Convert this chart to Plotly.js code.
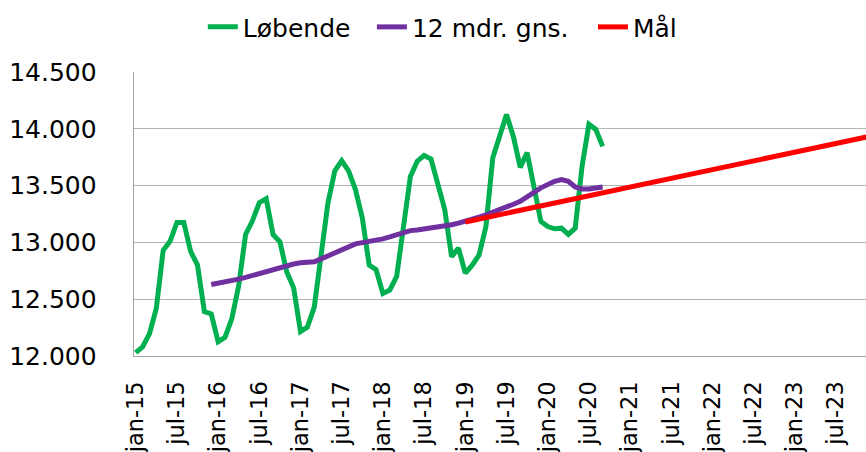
<!DOCTYPE html>
<html>
<head>
<meta charset="utf-8">
<script src="https://cdn.plot.ly/plotly-3.0.1.min.js"></script>
<style>html,body{margin:0;padding:0;background:#fff;}#chart{width:866px;height:452px;}</style>
</head>
<body>
<div id="chart"></div>
<script>
// Category axis: months jan-15 .. jan-24 (Danish abbreviations)
const monthNames = ['jan','feb','mar','apr','maj','jun','jul','aug','sep','okt','nov','dec'];
const years = ['15','16','17','18','19','20','21','22','23','24'];
const months = [];
years.forEach(y => monthNames.forEach(m => months.push(m + '-' + y)));

// Tick labels on the x axis
const xTickLabels = ['jan-15','jul-15','jan-16','jul-16','jan-17','jul-17','jan-18','jul-18',
  'jan-19','jul-19','jan-20','jul-20','jan-21','jul-21','jan-22','jul-22','jan-23','jul-23'];

// Y tick values / labels
const yTickValues = [12000, 12500, 13000, 13500, 14000, 14500];
const yTickLabels = ['12.000','12.500','13.000','13.500','14.000','14.500'];

// Series: Løbende (jan-15 .. sep-20)
const loebende = [
  12030,12080,12195,12420,12930,13010,13175,13175,12920,12800,12390,12370,
  12125,12165,12330,12620,13070,13190,13350,13385,13070,13005,12740,12600,
  12215,12255,12430,12890,13350,13630,13720,13630,13465,13215,12800,12760,
  12550,12580,12700,13140,13580,13715,13765,13735,13525,13290,12875,12950,
  12730,12800,12890,13140,13745,13920,14125,13930,13660,13790,13490,13185,
  13140,13120,13125,13070,13125,13670,14040,13995,13845
];

// Series: 12 mdr. gns. (dec-15 .. sep-20)
const gns12 = [
  12630,
  12640,12650,12662,12677,12692,12710,12727,12745,12763,12780,12798,12810,
  12821,12826,12830,12855,12880,12907,12934,12960,12987,12998,13007,13020,
  13031,13048,13066,13090,13104,13110,13117,13126,13134,13145,13155,13170,
  13184,13203,13223,13243,13264,13288,13312,13336,13361,13406,13441,13480,
  13515,13538,13553,13538,13488,13471,13471,13480,13488
];

// Series: Mål
const maalMonths = ['jan-19','jan-20','jan-21','jan-22','jan-23','jan-24'];
const maalValues = [13180, 13334, 13487, 13641, 13795, 13948];

const traces = [
  {
    name: 'Løbende', type: 'scatter', mode: 'lines', legend: 'legend',
    x: months.slice(0, loebende.length), y: loebende,
    line: {color: '#00B050', width: 5}
  },
  {
    name: '12 mdr. gns.', type: 'scatter', mode: 'lines', legend: 'legend2',
    x: months.slice(11, 11 + gns12.length), y: gns12,
    line: {color: '#7030A0', width: 5}
  },
  {
    name: 'Mål', type: 'scatter', mode: 'lines', legend: 'legend3',
    x: maalMonths, y: maalValues,
    line: {color: '#FF0000', width: 5}
  }
];

const legendBase = {
  orientation: 'h', xanchor: 'left', y: 1.239, yanchor: 'top',
  font: {family: 'DejaVu Sans', size: 25, color: '#000000'},
  bgcolor: 'rgba(0,0,0,0)', itemclick: false
};

const layout = {
  width: 866, height: 452,
  margin: {l: 134, r: 0, t: 72, b: 96, pad: 0},
  paper_bgcolor: '#ffffff', plot_bgcolor: '#ffffff',
  font: {family: 'DejaVu Sans', color: '#000000', size: 25},
  showlegend: true,
  legend: Object.assign({}, legendBase, {x: 0.094}),
  legend2: Object.assign({}, legendBase, {x: 0.325}),
  legend3: Object.assign({}, legendBase, {x: 0.627}),
  xaxis: {
    type: 'category', categoryorder: 'array', categoryarray: months,
    range: [-0.25, 106.35],
    tickmode: 'array', tickvals: xTickLabels, ticktext: xTickLabels,
    tickangle: -90, ticks: '', ticklabelstandoff: 15,
    tickfont: {family: 'DejaVu Sans', size: 22.5, color: '#000000'},
    showgrid: false, zeroline: false,
    showline: true, linecolor: '#A6A6A6', linewidth: 1.3
  },
  yaxis: {
    range: [12000, 14500],
    tickmode: 'array', tickvals: yTickValues, ticktext: yTickLabels,
    ticks: '', ticklabelstandoff: 31,
    tickfont: {family: 'DejaVu Sans', size: 25, color: '#000000'},
    showgrid: true, gridcolor: '#B4B4B4', gridwidth: 1.3,
    zeroline: false,
    showline: true, linecolor: '#A6A6A6', linewidth: 1.3
  }
};

Plotly.newPlot('chart', traces, layout, {staticPlot: true, displayModeBar: false});
</script>
</body>
</html>
